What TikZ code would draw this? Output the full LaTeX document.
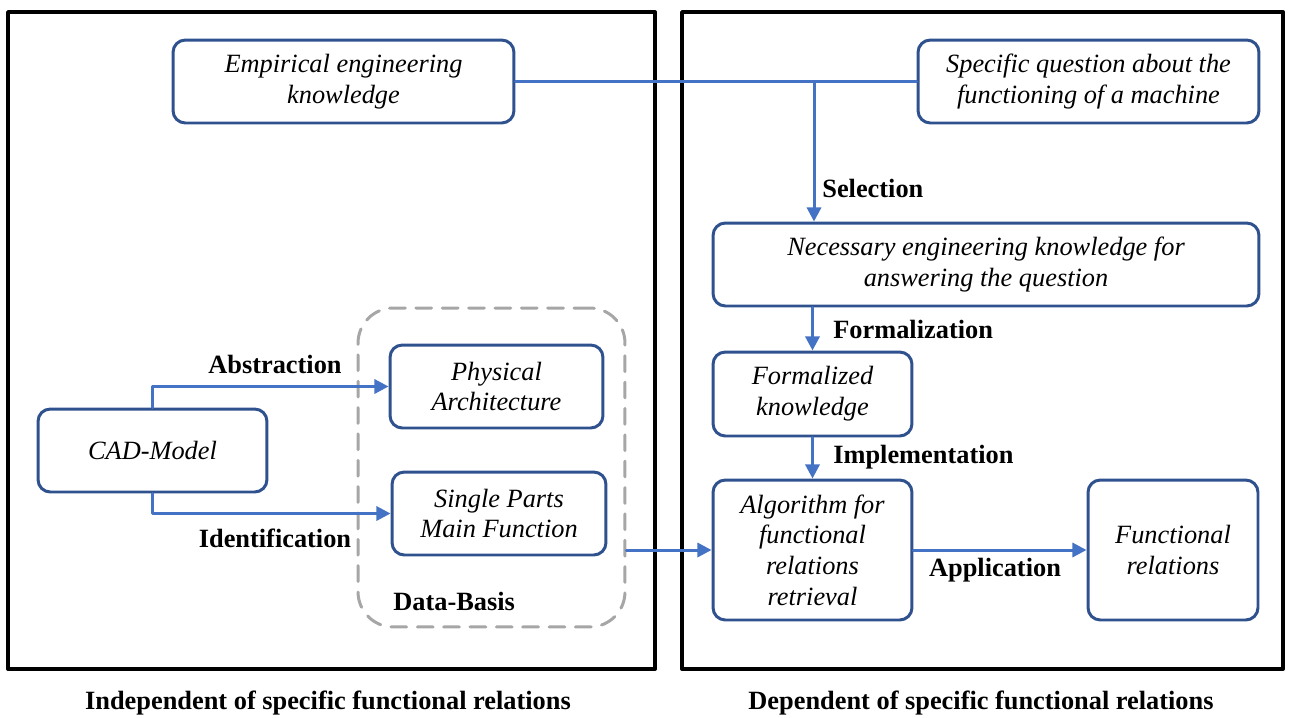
\documentclass[tikz,border=0pt]{standalone}
\usepackage{fontspec}
\setmainfont{Liberation Serif}
\usetikzlibrary{arrows.meta,positioning}

\begin{document}
\begin{tikzpicture}[x=0.02cm,y=-0.02cm,line cap=round,line join=round]
  % ----- styles & colors -----
  \definecolor{boxblue}{RGB}{47,82,143}     % box border
  \definecolor{arrowblue}{RGB}{68,114,196}  % connectors
  \definecolor{basisgray}{RGB}{166,166,166} % data basis
  \tikzset{
    block/.style={draw=boxblue,line width=1.7pt,rounded corners=7pt,align=center,inner sep=0pt,
      font=\fontsize{15}{17.5}\selectfont\itshape},
    frame/.style={draw=black,line width=2.2pt},
    link/.style={draw=arrowblue,line width=1.7pt},
    arr/.style={link,-{Triangle[length=8pt,width=8pt]}},
    lbl/.style={font=\fontsize{15}{17.5}\selectfont\bfseries,inner sep=0pt},
    basis/.style={draw=basisgray,line width=1.7pt,dash pattern=on 9pt off 6pt,rounded corners=20pt,inner sep=0pt}
  }

  \useasboundingbox (0,0) rectangle (1291,717);

  % ----- the two frames -----
  \draw[frame] (8,12) rectangle (655,669);
  \draw[frame] (682,12) rectangle (1283,669);

  \node[lbl] at (328,703) {Independent of specific functional relations};
  \node[lbl] at (981,703) {Dependent of specific functional relations};

  % ----- left side -----
  \node[basis, minimum width=5.34cm, minimum height=6.38cm] (data) at (491.5,467.5) {};
  \node[lbl, anchor=west] at (393,601) {Data-Basis};

  \node[block, minimum width=6.82cm, minimum height=1.66cm] (emp) at (343.5,81.5) {Empirical engineering\\knowledge};
  \node[block, minimum width=4.58cm, minimum height=1.66cm] (cad) at (152.5,450.5) {CAD-Model};
  \node[block, minimum width=4.26cm, minimum height=1.66cm] (phys) at (496.5,386.5) {Physical\\Architecture};
  \node[block, minimum width=4.28cm, minimum height=1.66cm] (single) at (499,513.5) {Single Parts\\Main Function};

  \draw[arr] (cad.north) |- (phys.west);
  \draw[arr] (cad.south) |- (single.west);
  \node[lbl] at (275,364) {Abstraction};
  \node[lbl] at (275,538) {Identification};

  % ----- right side -----
  \node[block, minimum width=6.82cm, minimum height=1.66cm] (quest) at (1088.5,81.5) {Specific question about the\\functioning of a machine};
  \node[block, minimum width=10.92cm, minimum height=1.66cm] (need) at (986,264.5) {Necessary engineering knowledge for\\answering the question};
  \node[block, minimum width=3.98cm, minimum height=1.68cm] (formk) at (812.5,394) {Formalized\\knowledge};
  \node[block, minimum width=3.98cm, minimum height=2.8cm] (algo) at (812.5,550) {Algorithm for\\functional\\relations\\retrieval};
  \node[block, minimum width=3.4cm, minimum height=2.8cm] (funrel) at (1173,550) {Functional\\relations};

  \draw[link] (emp.east) -- (quest.west);
  \coordinate (sel) at (814,81.5);
  \draw[arr] (sel) -- (sel |- need.north);
  \node[lbl, anchor=west] at (822,188) {Selection};

  \draw[arr] (formk.north |- need.south) -- (formk.north);
  \node[lbl, anchor=west] at (833,329) {Formalization};
  \draw[arr] (formk.south) -- (algo.north);
  \node[lbl, anchor=west] at (833,457) {Implementation};

  \draw[arr] (data.east |- algo.west) -- (algo.west);
  \draw[arr] (algo.east) -- (funrel.west);
  \node[lbl] at (995,570) {Application};
\end{tikzpicture}
\end{document}
